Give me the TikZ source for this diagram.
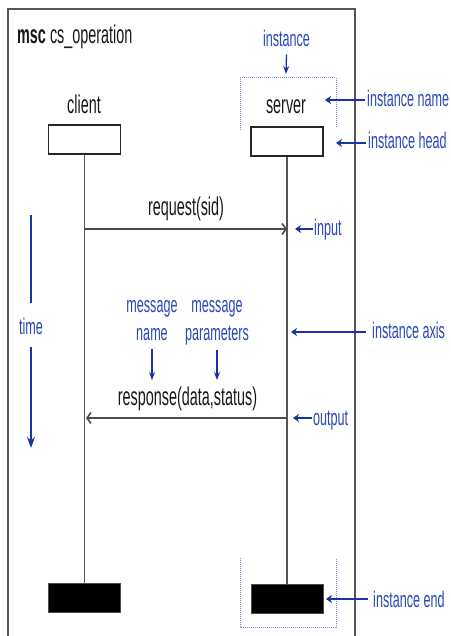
\documentclass[tikz,border=0pt]{standalone}
\usepackage{fontspec}
\setmainfont[FakeStretch=0.56]{Liberation Sans}
\usetikzlibrary{arrows.meta}

\definecolor{notetext}{RGB}{40,72,185}
\definecolor{noteline}{RGB}{22,52,165}
\definecolor{dotline}{RGB}{130,150,215}
\definecolor{axisgray}{RGB}{85,85,85}

\begin{document}
\begin{tikzpicture}[x=1pt,y=-1pt,
  bigtext/.style={font=\fontsize{25.7}{30}\selectfont, inner sep=0pt, text=black!90},
  note/.style={font=\fontsize{22.5}{28}\selectfont, text=notetext, inner sep=0pt},
  headbox/.style={draw=black!85, line width=1.6pt, fill=white,
    minimum width=72pt, minimum height=29pt, inner sep=0pt},
  endbox/.style={draw=black!70, line width=0.8pt, fill=black,
    minimum width=72pt, minimum height=29pt, inner sep=0pt},
  frame/.style={draw=axisgray, line width=1.3pt},
  lifeline/.style={draw=axisgray, line width=1.5pt},
  msg/.style={draw=black!70, line width=2.2pt,
    -{Straight Barb[length=4pt,width=11pt,line width=1.6pt]}},
  pointer/.style={draw=noteline, line width=1.3pt,
    -{Stealth[length=6pt,width=8pt]}, shorten <=2pt},
  vpointer/.style={draw=noteline, line width=1.3pt,
    -{Stealth[length=8pt,width=6pt]}},
  bracket/.style={draw=dotline, densely dotted, line width=1pt},
]
\useasboundingbox (0,0) rectangle (450,636);

% diagram frame (open at the bottom)
\draw[frame] (8,636) -- (8,9) -- (355,9) -- (355,636);
\node[bigtext, anchor=base west] (title) at (17,44) {\textbf{msc} cs\_operation};

% instances
\node[bigtext, anchor=base] (clientname) at (84,114) {client};
\node[bigtext, anchor=base] (servername) at (286,114) {server};
\node[headbox] (clienthead) at (84.5,139.5) {};
\node[headbox] (serverhead) at (287,141.5) {};
\node[endbox] (clientend) at (84.5,597.5) {};
\node[endbox] (serverend) at (287,599) {};
\draw[lifeline] (clienthead) -- (clientend);
\draw[lifeline] (serverhead) -- (serverend);

% messages
\draw[msg] (clienthead |- 0,229) -- (serverhead |- 0,229);
\node[bigtext, anchor=base] (reqlabel) at (186,215) {request(sid)};
\draw[msg] (serverhead |- 0,418) -- ([xshift=1.5pt]clienthead |- 0,418);
\node[bigtext, anchor=base] (resplabel) at (187.5,405) {response(data,status)};

% dotted outlines around the server instance parts
\draw[bracket] (240,130) |- (336,78) -- (336,128);
\draw[bracket] (240,558) |- (336,627) -- (336,558);

% annotations
\node[note, anchor=base] (instlabel) at (286.5,47) {instance};
\coordinate (inst-tip) at (286,74);
\draw[vpointer] ([yshift=-7pt]instlabel.south) -- (inst-tip);

\node[note, anchor=base west] (namelabel) at (367,107) {instance name};
\coordinate (name-tip) at (325,100);
\draw[pointer] (namelabel.west |- name-tip) -- (name-tip);

\node[note, anchor=base west] (headlabel) at (368,149) {instance head};
\coordinate (head-tip) at (336,143);
\draw[pointer] (headlabel.west |- head-tip) -- (head-tip);

\node[note, anchor=base west] (inlabel) at (314,235) {input};
\coordinate (in-tip) at (295,229);
\draw[pointer, shorten <=1pt] (inlabel.west |- in-tip) -- (in-tip);

\node[note, anchor=base west] (axislabel) at (372,338) {instance axis};
\coordinate (axis-tip) at (291,332);
\draw[pointer, shorten <=6pt] (axislabel.west |- axis-tip) -- (axis-tip);

\node[note, anchor=base west] (outlabel) at (313,425) {output};
\coordinate (out-tip) at (293,418);
\draw[pointer, shorten <=1pt] (outlabel.west |- out-tip) -- (out-tip);

\node[note, anchor=base west] (endlabel) at (373,607) {instance end};
\coordinate (end-tip) at (326,599);
\draw[pointer, shorten <=5pt] (endlabel.west |- end-tip) -- (end-tip);

% time direction
\node[note, anchor=base] (timelabel) at (31,334) {time};
\coordinate (time-top) at (31,215);
\coordinate (time-tip) at (31,448);
\draw[draw=noteline, line width=1.5pt, shorten >=14pt] (time-top) -- (timelabel.north);
\draw[draw=noteline, line width=1.5pt, -{Stealth[length=11pt,width=8pt]}, shorten <=13pt]
  (timelabel.south) -- (time-tip);

% message part labels (base = baseline of the last line)
\node[note, align=center, anchor=base] (mname) at (152,340) {message\\name};
\node[note, align=center, anchor=base] (mparam) at (217,340) {message\\parameters};
\coordinate (mname-tip) at (152,380);
\coordinate (mparam-tip) at (217,380);
\draw[vpointer] (mname.south |- 0,349) -- (mname-tip);
\draw[vpointer] (mparam.south |- 0,350) -- (mparam-tip);
\end{tikzpicture}
\end{document}
